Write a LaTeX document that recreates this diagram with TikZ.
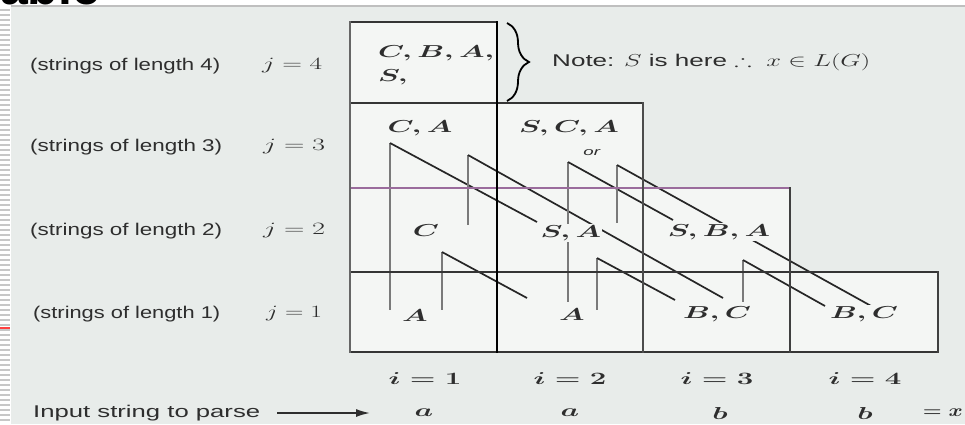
\documentclass[tikz,border=0pt]{standalone}
\usepackage{fontspec}
\setmainfont{Liberation Sans}
\usepackage{amssymb}
\usepackage{graphicx}
\usetikzlibrary{decorations.pathreplacing,arrows.meta}
\definecolor{bgc}{HTML}{E8ECEA}
\definecolor{cellc}{HTML}{F4F6F4}
\definecolor{gridc}{HTML}{353535}
\definecolor{purp}{HTML}{9A6C9C}
\definecolor{txt}{HTML}{2E2E2E}
\definecolor{vgray}{HTML}{7A7A7A}
\newcommand{\fitw}[2]{\resizebox{#1}{\height}{#2}}
\newcommand{\mlab}[1]{\scalebox{1.7}[1]{\boldmath$#1$}}
\begin{document}
\begin{tikzpicture}[x=1pt,y=-1pt,
  rowlab/.style={anchor=west,inner sep=0pt,text=txt,font=\fontsize{17}{20}\selectfont},
  cell/.style={inner sep=1pt,fill=cellc,text=txt,font=\fontsize{17}{20}\selectfont},
  plain/.style={inner sep=0pt,text=txt,font=\fontsize{17}{20}\selectfont},
  vline/.style={draw=vgray,line width=2.6pt},
  dline/.style={draw=black!85,line width=1.7pt},
  grid/.style={draw=gridc,line width=2.6pt}]
\useasboundingbox (0,0) rectangle (965,424);
\clip (0,0) rectangle (965,424);
% background
\fill[bgc] (0,0) rectangle (965,424);
\fill[white] (0,0) rectangle (965,5);
\draw[black!25,line width=1.5pt] (0,6) -- (965,6);
\fill[white] (0,0) rectangle (11,424);
\foreach \yy in {10,15,...,424} \draw[black!22,line width=1.2pt] (0,\yy) -- (10,\yy);
\draw[red!75,line width=1.2pt] (0,328) -- (10,328);
\node[anchor=base west,inner sep=0pt,font=\fontsize{50}{50}\selectfont\bfseries] (ttl) at (0,4) {able};
% cells
\fill[cellc] (350,22) rectangle (497,103);
\fill[cellc] (350,103) rectangle (643,188);
\fill[cellc] (350,188) rectangle (790,272);
\fill[cellc] (350,272) rectangle (938,352);
% backpointer coordinates
\coordinate (t1) at (390,143); \coordinate (b1) at (390,310); \coordinate (e1) at (537,222);
\coordinate (t2) at (468,155); \coordinate (b2) at (468,225); \coordinate (e2) at (723,298);
\coordinate (t3) at (568,162); \coordinate (b3) at (568,302); \coordinate (e3) at (673,220);
\coordinate (t4) at (617,165); \coordinate (b4) at (617,223); \coordinate (e4) at (873,307);
\coordinate (t5) at (442,252); \coordinate (b5) at (442,310); \coordinate (e5) at (527,298);
\coordinate (t6) at (597,258); \coordinate (b6) at (597,310); \coordinate (e6) at (675,300);
\coordinate (t7) at (743,260); \coordinate (b7) at (743,302); \coordinate (e7) at (825,306);
\foreach \k in {1,...,7} {
  \draw[vline] (t\k) -- (b\k);
  \draw[dline] (t\k) -- (e\k);
}
% grid
\draw[grid] (350,22) -- (497,22);
\draw[grid] (350,103) -- (643,103);
\draw[draw=purp,line width=2.6pt] (350,188) -- (790,188);
\draw[grid] (350,272) -- (938,272);
\draw[grid] (350,352) -- (938,352);
\draw[grid,draw=black!60] (350,21) -- (350,353);
\draw[grid,draw=black] (497,21) -- (497,353);
\draw[grid,draw=black!70] (643,102) -- (643,353);
\draw[grid,draw=black!75] (790,187) -- (790,353);
\draw[grid,draw=black!75] (938,271) -- (938,353);
% brace and note
\coordinate (br1) at (507,23); \coordinate (br2) at (507,101);
\draw[decorate,decoration={brace,amplitude=22pt},line width=1.8pt,black] (br1) -- (br2);
\node[rowlab] (note) at (552,62) {\fitw{318pt}{Note: $S$ is here $\therefore\ x \in L(G)$}};
% cell labels
\node[cell,anchor=west] (c14a) at (377,53) {\mlab{C, B, A,}};
\node[cell,anchor=west] (c14b) at (377,77) {\mlab{S,}};
\node[cell] (c13) at (420,128) {\mlab{C, A}};
\node[cell] (c23) at (569,128) {\mlab{S, C, A}};
\node[cell,inner sep=0pt,font=\fontsize{11}{12}\selectfont] (orl) at (592,153) {\scalebox{1.7}[1]{\textit{or}}};
\node[cell] (c12) at (426,231) {\mlab{C}};
\node[cell] (c22) at (571,233) {\mlab{S, A}};
\node[cell] (c32) at (719,232) {\mlab{S, B, A}};
\node[cell] (c11) at (415,316) {\mlab{A}};
\node[cell] (c21) at (572,315) {\mlab{A}};
\node[cell] (c31) at (717,314) {\mlab{B, C}};
\node[cell] (c41) at (864,314) {\mlab{B, C}};
% column indices
\node[plain] (i1) at (425,378) {\mlab{i = 1}};
\node[plain] (i2) at (570,378) {\mlab{i = 2}};
\node[plain] (i3) at (717,378) {\mlab{i = 3}};
\node[plain] (i4) at (865,378) {\mlab{i = 4}};
% input string
\node[plain] (s1) at (424,413) {\mlab{a}};
\node[plain] (s2) at (570,413) {\mlab{a}};
\node[plain] (s3) at (720,413) {\mlab{b}};
\node[plain] (s4) at (865,413) {\mlab{b}};
\node[plain,anchor=east] (sx) at (963,413) {\scalebox{1.25}[1]{\boldmath$= x$}};
% row labels
\node[rowlab] (l4) at (30,66) {\fitw{190pt}{(strings of length 4)}};
\node[rowlab] (j4) at (262,66) {\fitw{60pt}{$j = 4$}};
\node[rowlab] (l3) at (30,147) {\fitw{192pt}{(strings of length 3)}};
\node[rowlab] (j3) at (263,147) {\fitw{62pt}{$j = 3$}};
\node[rowlab] (l2) at (30,231) {\fitw{192pt}{(strings of length 2)}};
\node[rowlab] (j2) at (263,231) {\fitw{62pt}{$j = 2$}};
\node[rowlab] (l1) at (33,314) {\fitw{187pt}{(strings of length 1)}};
\node[rowlab] (j1) at (266,314) {\fitw{56pt}{$j = 1$}};
\node[rowlab] (inp) at (33,413) {\fitw{227pt}{Input string to parse}};
\coordinate (as) at (277,413); \coordinate (ae) at (370,413);
\draw[-{Latex[length=14pt,width=8pt]},line width=1.6pt,txt] (as) -- (ae);
\end{tikzpicture}
\end{document}
